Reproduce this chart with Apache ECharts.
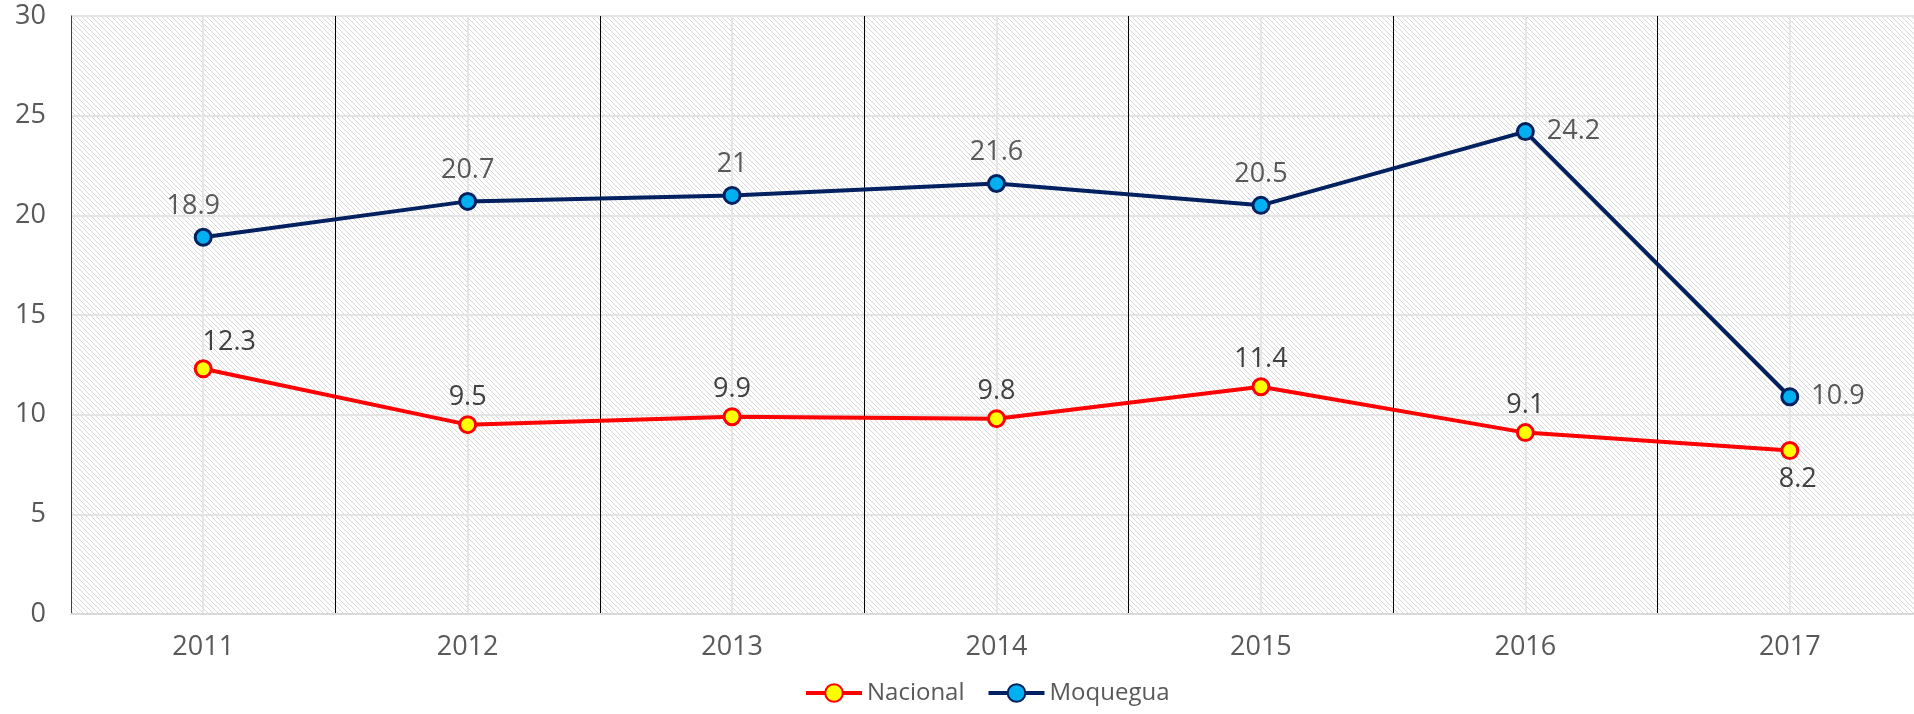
<!DOCTYPE html>
<html>
<head>
<meta charset="utf-8">
<script src="https://cdn.jsdelivr.net/npm/echarts@6/dist/echarts.min.js"></script>
<style>
  html, body { margin: 0; padding: 0; background: #fff; }
  #chart { width: 1914px; height: 714px; }
</style>
</head>
<body>
<div id="chart"></div>
<script>
const years = ['2011', '2012', '2013', '2014', '2015', '2016', '2017']
const nacional = [12.3, 9.5, 9.9, 9.8, 11.4, 9.1, 8.2]
const moquegua = [18.9, 20.7, 21, 21.6, 20.5, 24.2, 10.9]

const font = 'Open Sans'

// diagonal hatch for the plot area
const tile = document.createElement('canvas')
tile.width = 5
tile.height = 5
const ctx = tile.getContext('2d')
ctx.fillStyle = '#fff'
ctx.fillRect(0, 0, 5, 5)
ctx.fillStyle = '#d8d8d8'
for (let i = 0; i < 5; i++) {
  ctx.fillRect(i, i, 1, 1)
}

const chart = echarts.init(document.getElementById('chart'))

chart.setOption({
  animation: false,
  textStyle: { fontFamily: font },
  grid: {
    show: true,
    left: 71,
    right: -8,
    top: 16,
    bottom: 100,
    containLabel: false,
    outerBoundsMode: 'none',
    borderWidth: 0,
    backgroundColor: { image: tile, repeat: 'repeat' }
  },
  legend: {
    bottom: 4,
    left: 799,
    itemWidth: 56,
    itemHeight: 22,
    itemGap: 22,
    lineStyle: { width: 4 },
    textStyle: { color: '#595959', fontSize: 24, fontFamily: font },
    data: ['Nacional', 'Moquegua']
  },
  xAxis: [{
    type: 'category',
    data: years,
    boundaryGap: true,
    axisLine: { show: true, lineStyle: { color: '#d9d9d9', width: 2 } },
    axisTick: { show: false },
    axisLabel: { color: '#595959', fontSize: 27, margin: 20 },
    splitLine: { show: true, lineStyle: { color: '#000', width: 1 } }
  }, {
    // light lines through the category centres
    type: 'value',
    min: 0,
    max: 14,
    interval: 1,
    position: 'top',
    axisLine: { show: false },
    axisTick: { show: false },
    axisLabel: { show: false },
    splitLine: { show: true, lineStyle: { color: ['rgba(0,0,0,0)', '#e6e6e6'], width: 2 } }
  }],
  yAxis: {
    type: 'value',
    min: 0,
    max: 30,
    interval: 5,
    axisLine: { show: true, lineStyle: { color: '#404040', width: 1 } },
    axisTick: { show: false },
    axisLabel: { color: '#595959', fontSize: 27, margin: 25 },
    splitLine: { show: true, lineStyle: { color: '#e4e4e4', width: 2 } }
  },
  series: [
    {
      name: 'Nacional',
      type: 'line',
      data: nacional.map((v, i) => {
        if (i === 0) return { value: v, label: { offset: [26, 0] } }
        if (i === 6) return { value: v, label: { position: 'bottom', distance: 6, offset: [8, 0] } }
        return v
      }),
      symbol: 'circle',
      symbolSize: 16,
      lineStyle: { color: '#ff0000', width: 4 },
      itemStyle: { color: '#ffff00', borderColor: '#ff0000', borderWidth: 3 },
      label: { show: true, position: 'top', distance: 4, color: '#404040', fontSize: 27 },
      z: 3
    },
    {
      name: 'Moquegua',
      type: 'line',
      data: moquegua.map((v, i) => {
        if (i === 5 || i === 6) return { value: v, label: { position: 'right', distance: 12 } }
        if (i === 0) return { value: v, label: { offset: [-10, 0] } }
        return v
      }),
      symbol: 'circle',
      symbolSize: 16,
      lineStyle: { color: '#002060', width: 4 },
      itemStyle: { color: '#00b0f0', borderColor: '#002060', borderWidth: 3 },
      label: { show: true, position: 'top', distance: 8, color: '#595959', fontSize: 27 },
      z: 3
    }
  ]
})
</script>
</body>
</html>
